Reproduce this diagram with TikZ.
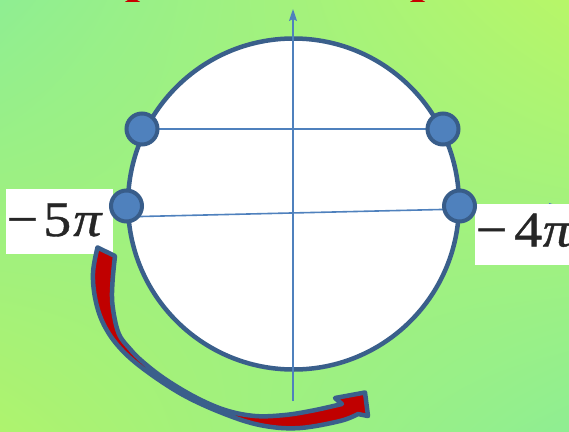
\documentclass[tikz,border=0pt]{standalone}
\usepackage{fontspec}
\setmainfont{Liberation Serif}
\newfontfamily\labelfont[FakeStretch=1.12,FakeBold=0.8]{Liberation Serif}
\usetikzlibrary{arrows.meta,shadings}
\definecolor{bgA}{RGB}{143,238,146}
\definecolor{bgB}{RGB}{183,246,104}
\definecolor{bgC}{RGB}{174,243,110}
\definecolor{rimblue}{RGB}{58,95,139}
\definecolor{axisblue}{RGB}{79,129,189}
\definecolor{dotline}{RGB}{56,93,138}
\definecolor{arrowred}{RGB}{192,0,0}
\definecolor{titlered}{RGB}{200,0,0}
\begin{document}
\begin{tikzpicture}[x=1pt,y=-1pt,
  axisline/.style={draw=axisblue, line width=1.6pt},
  axistip/.style={-{Stealth[length=12pt,width=8pt,inset=2pt]}},
  dotnode/.style={circle, fill=axisblue, draw=dotline, line width=4pt, minimum size=31pt, inner sep=0pt},
  labelbox/.style={fill=white, draw=none, inner sep=0pt, anchor=north west},
  labeltext/.style={inner sep=0pt, anchor=base west, text=black!85, font=\labelfont\fontsize{50}{56}\selectfont},
  bigarrow/.style={draw=rimblue, fill=arrowred, line width=4.5pt, line join=round}]
\useasboundingbox (0,0) rectangle (569,431);
\clip (0,0) rectangle (569,431);
% background
\shade[upper left=bgA, upper right=bgB, lower left=bgC, lower right=bgA] (0,0) rectangle (569,431);
% cut-off title fragments
\fill[titlered] (125,1.8) -- (140,1.8) -- (137,0) -- (128,0) -- cycle;
\fill[titlered] (410,1.8) -- (425,1.8) -- (422,0) -- (413,0) -- cycle;
% unit circle
\node[circle, draw=rimblue, fill=white, line width=4.5pt, minimum size=331pt, inner sep=0pt] (unit) at (293.5,204) {};
% points
\coordinate (pA) at (142,129);
\coordinate (pB) at (443,129);
\coordinate (pC) at (126.5,206);
\coordinate (pD) at (459.5,206);
\coordinate (yb) at (293,401);
\coordinate (yt) at (293,9);
\coordinate (xl) at (128,216.8);
\coordinate (xr) at (561,206.7);
% axes and chords
\draw[axisline, axistip] (yb) -- (yt);
\draw[axisline] (pA) -- (pB);
\draw[axisline, axistip] (xl) -- (xr);
% labels
\node[labelbox, minimum width=107pt, minimum height=65pt] (boxL) at (6,189) {};
\node[labeltext] (labL) at (6.5,236) {−\kern5pt5\kern2pt\textit{π}};
\node[labelbox, minimum width=100pt, minimum height=61pt] (boxR) at (475,204) {};
\node[labeltext] (labR) at (475.5,246.5) {−\kern7pt4\kern0.5pt\textit{π}};
% dots
\node[dotnode] (dA) at (pA) {};
\node[dotnode] (dB) at (pB) {};
\node[dotnode] (dC) at (pC) {};
\node[dotnode] (dD) at (pD) {};
% curved block arrow
\draw[bigarrow]
  plot[smooth, tension=0.6] coordinates {(97.5,247.5) (93,273) (95.5,300) (104,325) (120,348) (145,370) (185,396) (230,416) (265,426) (300,428) (340,421) (358,414)}
  -- (368,416) -- (365,392.5) -- (335,398) -- (342,404)
  -- plot[smooth, tension=0.6] coordinates {(342,404) (313,410.5) (285,415) (255,416) (225,410) (195,397) (165,379) (143,362) (130,349) (118.5,333) (112.5,305) (112.5,282) (115,256)}
  -- cycle;
\end{tikzpicture}
\end{document}
